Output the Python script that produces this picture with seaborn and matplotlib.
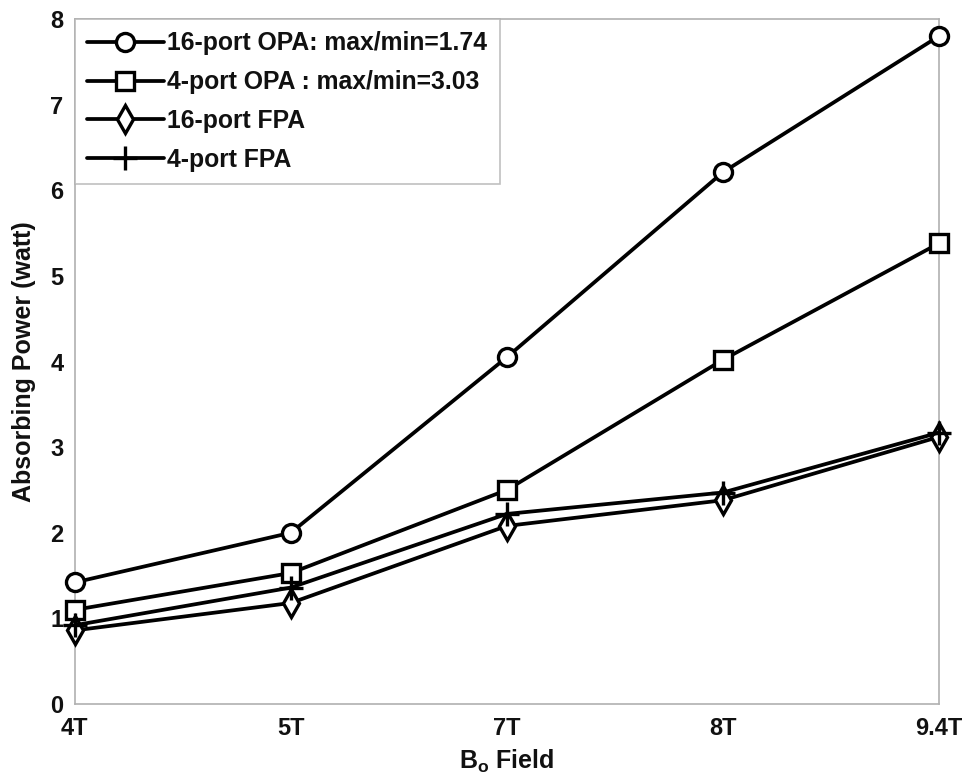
import numpy as np
import pandas as pd
import matplotlib
matplotlib.use("Agg")
import matplotlib.pyplot as plt
import seaborn as sns

fields = ["4T", "5T", "7T", "8T", "9.4T"]
opa16 = [1.42, 2.00, 4.05, 6.21, 7.80]
opa4 = [1.10, 1.53, 2.50, 4.02, 5.38]
fpa16 = [0.86, 1.18, 2.08, 2.38, 3.12]
fpa4 = [0.92, 1.36, 2.22, 2.47, 3.17]
series_names = ["16-port OPA: max/min=1.74", "4-port OPA : max/min=3.03",
                "16-port FPA", "4-port FPA"]
series_vals = [opa16, opa4, fpa16, fpa4]
markers = ["o", "s", "d", "+"]
msizes = [13, 12.5, 14, 17]

sns.set_style("white")
plt.rcParams['font.family'] = ['Liberation Sans', 'DejaVu Sans']
plt.rcParams['mathtext.fontset'] = 'custom'
plt.rcParams['mathtext.rm'] = 'Liberation Sans:bold'
plt.rcParams['mathtext.it'] = 'Liberation Sans:bold'

rows = []
for name, vals in zip(series_names, series_vals):
    for i, v in enumerate(vals):
        rows.append({"pos": i, "field": fields[i], "val": v, "series": name})
df = pd.DataFrame(rows)

fig = plt.figure(figsize=(9.7, 7.82), dpi=100)
ax = fig.add_axes([0.0770, 0.0997, 0.8910, 0.876])

for name, mk, ms in zip(series_names, markers, msizes):
    sub = df[df["series"] == name]
    sns.lineplot(data=sub, x="pos", y="val", ax=ax, color="black", lw=2.7,
                 marker=mk, markersize=ms,
                 markerfacecolor="white" if mk != "+" else "black",
                 markeredgecolor="black", markeredgewidth=2.4, label=name,
                 estimator=None, sort=False, clip_on=False, zorder=3)

ax.set_xlim(0, len(fields) - 1)
ax.set_ylim(0, 8)
ax.set_xticks(range(len(fields)))
ax.set_xticklabels(fields)
ax.set_yticks(range(0, 9))
for sp in ax.spines.values():
    sp.set_color("#b0b0b0")
    sp.set_linewidth(1.2)
    sp.set_zorder(1)
ax.tick_params(direction="in", length=8, color="#b0b0b0", width=1.2,
               labelsize=17, labelcolor="#111111")
ax.tick_params(axis="y", pad=8)
ax.tick_params(axis="x", pad=9)
for lab in ax.get_xticklabels() + ax.get_yticklabels():
    lab.set_fontweight("bold")
ax.set_xlabel(r"B$_{\mathrm{o}}$ Field", fontsize=18, fontweight="bold",
              labelpad=6, color="#111111")
ax.set_ylabel("Absorbing Power (watt)", fontsize=18, fontweight="bold",
              labelpad=10, color="#111111")

leg = ax.legend(loc="upper left", borderaxespad=0, frameon=True, fancybox=False,
                handlelength=3.1, handletextpad=0.15,
                labelspacing=0.6, borderpad=0.5,
                prop={"weight": "bold", "size": 17.8})
leg.get_frame().set_edgecolor("#b0b0b0")
leg.get_frame().set_linewidth(1.2)
leg.set_zorder(5)
for t in leg.get_texts():
    t.set_color("#111111")

fig.savefig("out.png", dpi=100)
